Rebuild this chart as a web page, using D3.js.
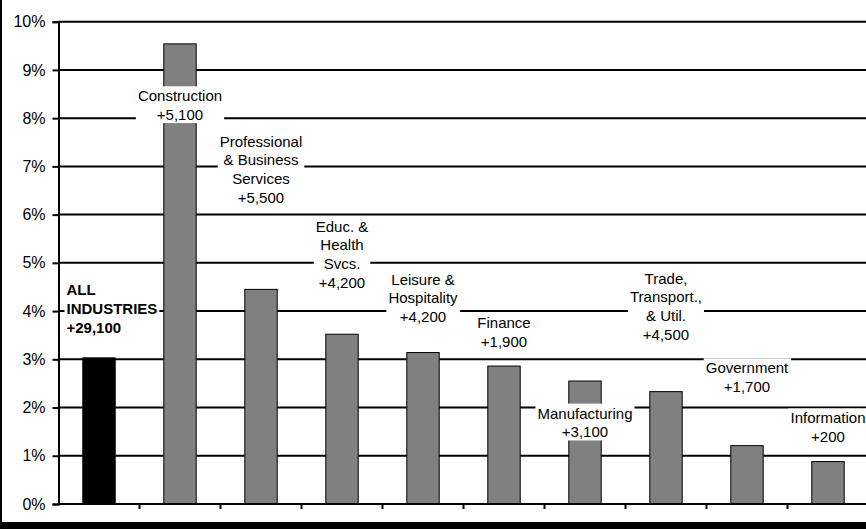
<!DOCTYPE html>
<html>
<head>
<meta charset="utf-8">
<script src="https://cdn.jsdelivr.net/npm/d3@7"></script>
<style>
  html, body { margin: 0; padding: 0; background: #fff; }
  svg { display: block; font-family: "Liberation Sans", Arial, sans-serif; }
</style>
</head>
<body>
<svg id="chart" width="866" height="529"></svg>
<script>
// ---- data ----
const categories = ["All Industries", "Construction", "Professional & Business Services",
  "Educ. & Health Svcs.", "Leisure & Hospitality", "Finance", "Manufacturing",
  "Trade, Transport., & Util.", "Government", "Information"];
const growthPct = [3.03, 9.54, 4.45, 3.52, 3.14, 2.86, 2.55, 2.33, 1.21, 0.88];
const labelLines = [
  ["ALL", "INDUSTRIES", "+29,100"],
  ["Construction", "+5,100"],
  ["Professional", "& Business", "Services", "+5,500"],
  ["Educ. &", "Health", "Svcs.", "+4,200"],
  ["Leisure &", "Hospitality", "+4,200"],
  ["Finance", "+1,900"],
  ["Manufacturing", "+3,100"],
  ["Trade,", "Transport.,", "& Util.", "+4,500"],
  ["Government", "+1,700"],
  ["Information", "+200"]
];
// first-line baseline of each label, in axis (%) units
const labelAnchorPct = [4.33, 8.35, 7.41, 5.65, 4.55, 3.64, 1.77, 4.57, 2.71, 1.67];
const yTicks = [0, 1, 2, 3, 4, 5, 6, 7, 8, 9, 10];

// ---- layout ----
const W = 866, H = 529;
const mLeft = 58.5, mRight = 868.5, mTop = 21.7, mBottom = 504;
const svg = d3.select("#chart");

const x = d3.scaleBand().domain(categories).range([mLeft, mRight]).paddingInner(0.6).paddingOuter(0.3);
const y = d3.scaleLinear().domain([0, 10]).range([mBottom, mTop]);

// gridlines
svg.append("g").selectAll("line").data(yTicks.filter(d => d > 0)).join("line")
  .attr("x1", mLeft).attr("x2", W)
  .attr("y1", d => y(d)).attr("y2", d => y(d))
  .attr("stroke", "#000").attr("stroke-width", 2);

// bars
svg.append("g").selectAll("rect").data(categories).join("rect")
  .attr("x", d => x(d))
  .attr("width", x.bandwidth())
  .attr("y", (d, i) => y(growthPct[i]))
  .attr("height", (d, i) => y(0) - y(growthPct[i]))
  .attr("fill", (d, i) => i === 0 ? "#000" : "#808080")
  .attr("stroke", "#000").attr("stroke-width", 1);

// y axis
const yAxis = svg.append("g").attr("transform", `translate(${mLeft},0)`)
  .call(d3.axisLeft(y).tickValues(yTicks).tickFormat(d => d + "%").tickSize(6).tickPadding(7));
yAxis.select(".domain").attr("stroke", "#000").attr("stroke-width", 2);
yAxis.selectAll(".tick line").attr("stroke", "#000").attr("stroke-width", 2);
yAxis.selectAll(".tick text").attr("font-size", 16).attr("fill", "#000")
  .attr("font-family", "Liberation Sans, Arial, sans-serif");

// x axis baseline + ticks between categories
svg.append("line").attr("x1", mLeft).attr("x2", W).attr("y1", y(0)).attr("y2", y(0))
  .attr("stroke", "#000").attr("stroke-width", 2);
const step = x.step();
const bounds = categories.slice(1).map(c => x(c) - step * x.paddingInner() / 2);
svg.append("g").selectAll("line").data(bounds).join("line")
  .attr("x1", d => d).attr("x2", d => d)
  .attr("y1", y(0)).attr("y2", y(0) + 5)
  .attr("stroke", "#000").attr("stroke-width", 2);

// labels with white backgrounds
const lineH = 18.8;
categories.forEach((c, i) => {
  const g = svg.append("g");
  const isAll = i === 0;
  const tx = isAll ? 66.5 : x(c) + x.bandwidth() / 2;
  const ty = y(labelAnchorPct[i]);
  const t = g.append("text")
    .attr("x", tx).attr("y", ty)
    .attr("text-anchor", isAll ? "start" : "middle")
    .attr("font-size", 15)
    .attr("font-weight", isAll ? "bold" : "normal")
    .attr("fill", "#000");
  labelLines[i].forEach((ln, k) => {
    t.append("tspan").attr("x", tx).attr("y", ty + k * lineH).text(ln);
  });
  const bb = t.node().getBBox();
  g.insert("rect", "text")
    .attr("x", bb.x - 2).attr("y", bb.y - 1)
    .attr("width", bb.width + 4).attr("height", bb.height + 1)
    .attr("fill", "#fff");
});

// outer frame (left and bottom edges visible)
svg.append("rect").attr("x", 0).attr("y", 0).attr("width", 2).attr("height", H).attr("fill", "#000");
svg.append("rect").attr("x", 0).attr("y", 522).attr("width", W).attr("height", H - 522).attr("fill", "#000");
</script>
</body>
</html>
